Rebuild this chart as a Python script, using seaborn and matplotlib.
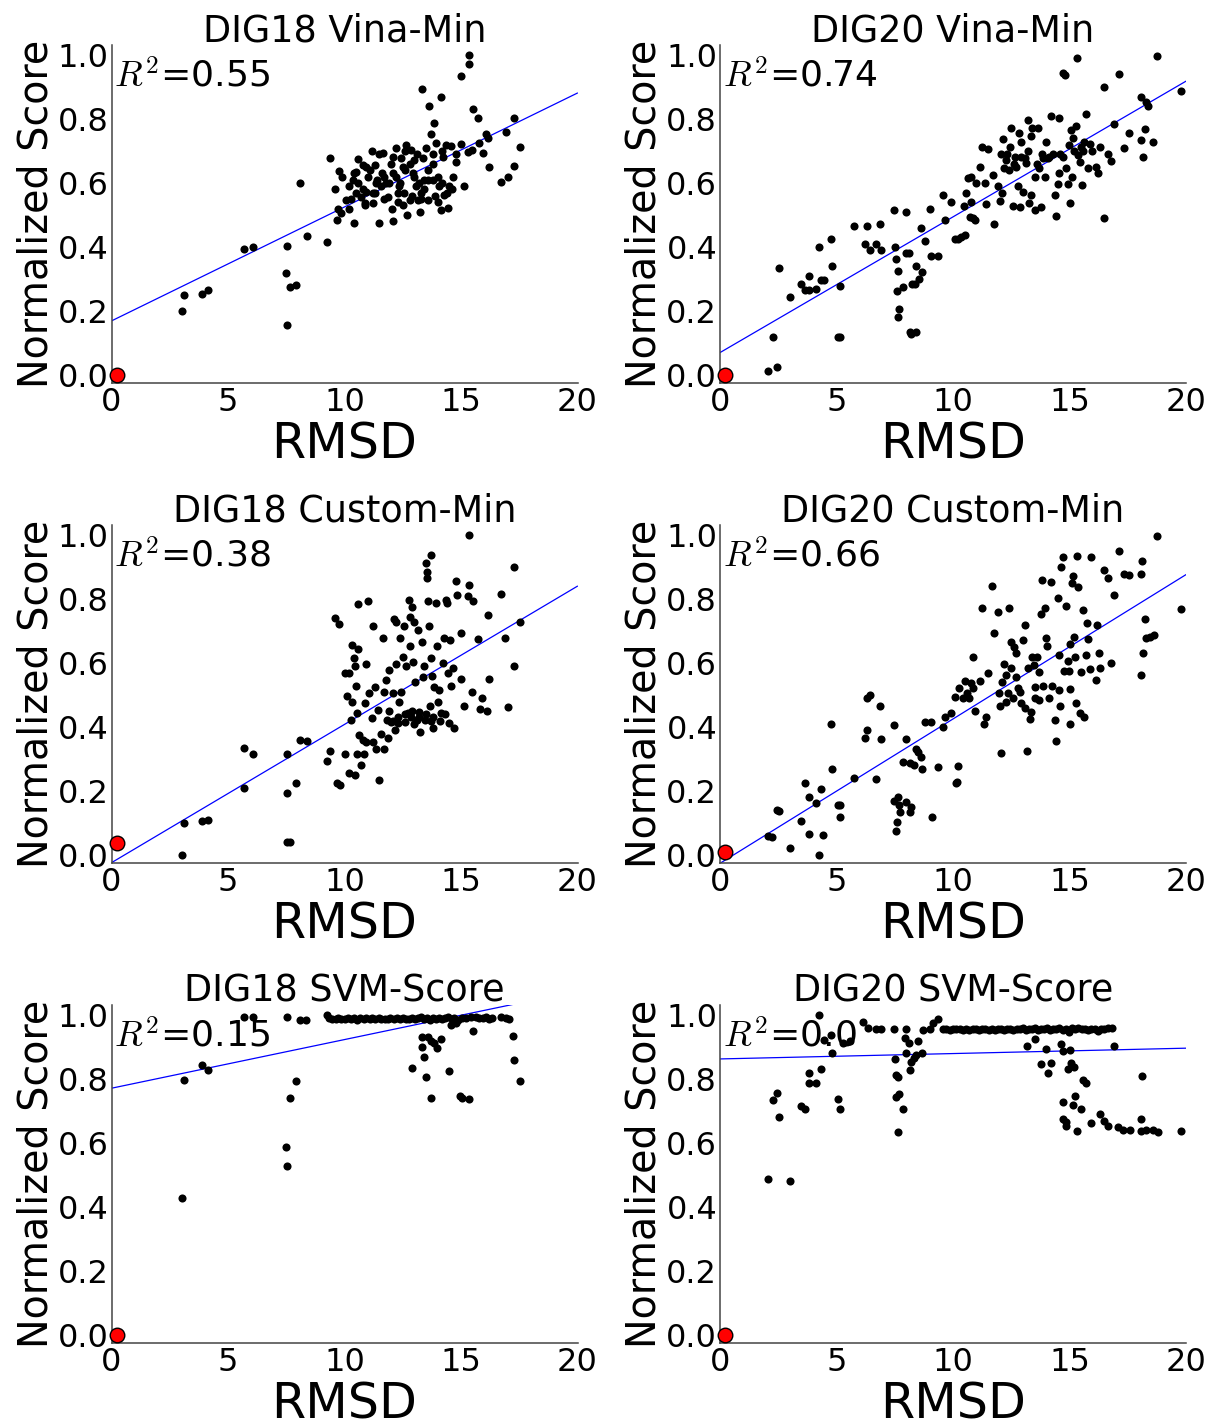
import numpy as np
import matplotlib
matplotlib.use('Agg')
import matplotlib.pyplot as plt
import seaborn as sns
import pandas as pd
from matplotlib.ticker import FormatStrFormatter

# ---------------- data ----------------
titles = ["DIG18 Vina-Min", "DIG20 Vina-Min", "DIG18 Custom-Min",
          "DIG20 Custom-Min", "DIG18 SVM-Score", "DIG20 SVM-Score"]
r2_labels = ["0.55", "0.74", "0.38", "0.66", "0.15", "0.0"]
fit_intercepts = [0.169, 0.070, -0.024, -0.026, 0.771, 0.8625]
fit_slopes = [0.0356, 0.0424, 0.0432, 0.0451, 0.0152, 0.00168]
native_rmsd = [0.22, 0.22, 0.22, 0.22, 0.22, 0.22]
native_score = [0.0, 0.0, 0.038, 0.01, 0.0, 0.0]
x_ticks = [0, 5, 10, 15, 20]
y_ticks = [0.0, 0.2, 0.4, 0.6, 0.8, 1.0]

p1_points = [
    (3.04, 0.20), (3.10, 0.25), (3.89, 0.252), (4.14, 0.264), (5.67, 0.395), (6.06, 0.399),
    (7.54, 0.402), (7.50, 0.319), (7.64, 0.275), (7.91, 0.28), (7.54, 0.156), (8.10, 0.60),
    (8.40, 0.435), (9.26, 0.414), (9.37, 0.677), (9.69, 0.484), (9.61, 0.581), (9.73, 0.518),
    (9.76, 0.638), (9.83, 0.507), (10.20, 0.518), (10.41, 0.476), (10.07, 0.547), (9.91, 0.62),
    (10.21, 0.589), (10.36, 0.609), (10.50, 0.635), (10.59, 0.675), (10.79, 0.656), (10.93, 0.651),
    (11.33, 0.656), (10.50, 0.568), (10.71, 0.557), (10.86, 0.536), (10.93, 0.573), (11.21, 0.536),
    (11.21, 0.568), (11.50, 0.476), (11.36, 0.599), (11.57, 0.589), (11.64, 0.693), (11.71, 0.62),
    (11.86, 0.557), (11.93, 0.599), (12.04, 0.519), (12.09, 0.481), (12.07, 0.63), (12.21, 0.708),
    (12.29, 0.542), (12.36, 0.589), (12.43, 0.677), (12.50, 0.651), (12.57, 0.568), (12.64, 0.719),
    (12.69, 0.50), (12.79, 0.547), (12.86, 0.703), (12.93, 0.63), (13.00, 0.672), (13.07, 0.589),
    (13.14, 0.547), (13.24, 0.508), (13.31, 0.892), (13.29, 0.568), (13.36, 0.677), (13.43, 0.609),
    (13.50, 0.708), (13.57, 0.547), (13.64, 0.839), (13.71, 0.753), (13.79, 0.609), (13.86, 0.786),
    (13.93, 0.724), (14.00, 0.542), (14.07, 0.589), (14.13, 0.87), (14.14, 0.516), (14.21, 0.682),
    (14.29, 0.563), (14.36, 0.719), (14.43, 0.521), (14.50, 0.589), (14.57, 0.714), (14.64, 0.62),
    (14.79, 0.667), (14.99, 0.721), (15.00, 0.935), (15.13, 0.589), (15.29, 0.698), (15.33, 0.971),
    (15.36, 1.0), (15.47, 0.703), (15.51, 0.831), (15.71, 0.804), (15.79, 0.724), (15.93, 0.695),
    (16.07, 0.753), (16.19, 0.651), (16.14, 0.742), (16.70, 0.603), (16.91, 0.758), (17.01, 0.618),
    (17.26, 0.654), (17.29, 0.804), (17.54, 0.711),
    (10.6, 0.60), (10.8, 0.58), (11.0, 0.62), (11.1, 0.64), (11.4, 0.61), (11.6, 0.63),
    (11.8, 0.60), (12.0, 0.66), (12.2, 0.62), (12.4, 0.60), (12.6, 0.64), (12.8, 0.66),
    (13.0, 0.62), (13.2, 0.60), (13.4, 0.58), (13.6, 0.64), (13.8, 0.66), (14.0, 0.62),
    (14.2, 0.60), (14.4, 0.57), (11.2, 0.70), (11.5, 0.69), (12.1, 0.68), (12.6, 0.70),
    (13.1, 0.69), (13.8, 0.69), (14.2, 0.70), (10.3, 0.55), (10.9, 0.53), (11.7, 0.55),
    (12.5, 0.53), (13.3, 0.55), (13.9, 0.56), (14.6, 0.58), (14.8, 0.69), (12.3, 0.57),
    (12.9, 0.56), (11.3, 0.57), (10.4, 0.63), (13.6, 0.61),
]

p2_points = [
    (2.04, 0.013), (2.43, 0.026), (2.27, 0.12), (2.53, 0.335), (3.01, 0.243), (3.46, 0.284),
    (3.63, 0.264), (3.83, 0.31), (3.81, 0.264), (4.11, 0.269), (4.23, 0.40), (4.33, 0.297),
    (4.47, 0.297), (4.76, 0.425), (4.80, 0.341), (5.16, 0.279), (5.06, 0.119), (5.14, 0.12),
    (5.77, 0.465), (6.30, 0.465), (6.24, 0.41), (6.43, 0.392), (6.70, 0.41), (6.87, 0.472),
    (6.93, 0.389), (7.46, 0.516), (7.50, 0.40), (7.57, 0.363), (7.64, 0.325), (7.59, 0.262),
    (7.69, 0.206), (7.66, 0.18), (7.84, 0.276), (8.00, 0.51), (8.00, 0.382), (8.10, 0.382),
    (8.41, 0.339), (8.14, 0.135), (8.21, 0.128), (8.40, 0.135), (8.24, 0.284), (8.36, 0.284),
    (8.54, 0.30), (8.67, 0.322), (8.64, 0.458), (8.79, 0.42), (9.00, 0.519), (9.07, 0.372),
    (9.34, 0.372), (9.56, 0.563), (9.66, 0.484), (9.91, 0.542), (10.07, 0.424), (10.21, 0.425),
    (10.36, 0.432), (10.50, 0.437), (10.46, 0.529), (10.56, 0.57), (10.64, 0.614), (10.71, 0.495),
    (10.79, 0.542), (10.86, 0.49), (10.93, 0.484), (10.79, 0.62), (10.97, 0.60), (11.17, 0.651),
    (11.26, 0.711), (11.36, 0.60), (11.40, 0.533), (11.50, 0.706), (11.70, 0.625), (11.77, 0.473),
    (11.93, 0.591), (12.03, 0.544), (12.09, 0.568), (12.14, 0.736), (12.07, 0.69), (12.17, 0.646),
    (12.29, 0.672), (12.43, 0.711), (12.51, 0.773), (12.57, 0.528), (12.64, 0.682), (12.71, 0.651),
    (12.79, 0.591), (12.86, 0.526), (12.83, 0.755), (12.93, 0.729), (13.00, 0.571), (13.07, 0.677),
    (13.14, 0.661), (13.21, 0.797), (13.26, 0.536), (13.33, 0.562), (13.33, 0.746), (13.40, 0.771),
    (13.50, 0.62), (13.50, 0.516), (13.64, 0.771), (13.71, 0.646), (13.79, 0.526), (13.86, 0.677),
    (13.93, 0.62), (14.00, 0.727), (14.07, 0.677), (14.21, 0.808), (14.36, 0.562), (14.40, 0.497),
    (14.50, 0.597), (14.54, 0.802), (14.57, 0.63), (14.71, 0.945), (14.79, 0.937), (14.71, 0.682),
    (14.83, 0.646), (14.93, 0.597), (14.97, 0.72), (15.07, 0.766), (15.11, 0.62), (15.17, 0.742),
    (15.03, 0.536), (15.29, 0.779), (15.33, 0.99), (15.36, 0.687), (15.43, 0.664), (15.50, 0.711),
    (15.54, 0.593), (15.64, 0.729), (15.71, 0.815), (15.79, 0.646), (15.86, 0.722), (15.97, 0.701),
    (16.14, 0.649), (16.23, 0.63), (16.29, 0.711), (16.47, 0.49), (16.47, 0.899), (16.64, 0.691),
    (16.79, 0.668), (16.89, 0.785), (17.11, 0.94), (17.34, 0.709), (17.57, 0.756), (18.06, 0.735),
    (18.09, 0.868), (18.14, 0.682), (18.23, 0.769), (18.29, 0.852), (18.39, 0.841), (18.60, 0.728),
    (18.76, 0.998), (19.79, 0.888),
    (12.3, 0.69), (12.6, 0.66), (12.9, 0.68), (13.2, 0.70), (13.8, 0.69), (14.1, 0.68),
    (14.3, 0.69), (14.6, 0.69), (15.2, 0.70), (15.6, 0.70), (13.6, 0.66), (12.4, 0.64),
]

p3_points = [
    (3.04, 0.0), (3.10, 0.099), (3.89, 0.106), (4.14, 0.109), (5.67, 0.335), (6.06, 0.316),
    (5.67, 0.21), (7.54, 0.316), (7.54, 0.195), (7.54, 0.042), (7.67, 0.042), (7.91, 0.224),
    (8.10, 0.359), (8.40, 0.357), (9.26, 0.295), (9.37, 0.325), (9.61, 0.74), (9.76, 0.721),
    (9.69, 0.224), (9.79, 0.219), (10.00, 0.57), (10.00, 0.316), (10.10, 0.497), (10.21, 0.57),
    (10.26, 0.422), (10.31, 0.656), (10.34, 0.478), (10.19, 0.255), (10.43, 0.25), (10.39, 0.617),
    (10.44, 0.589), (10.50, 0.528), (10.53, 0.445), (10.57, 0.643), (10.60, 0.783), (10.53, 0.316),
    (10.64, 0.375), (10.71, 0.281), (10.79, 0.359), (10.83, 0.316), (10.89, 0.474), (10.93, 0.597),
    (10.93, 0.354), (11.00, 0.794), (11.07, 0.507), (11.19, 0.427), (11.21, 0.716), (11.21, 0.354),
    (11.33, 0.526), (11.36, 0.33), (11.43, 0.453), (11.50, 0.234), (11.57, 0.377), (11.64, 0.677),
    (11.69, 0.51), (11.71, 0.33), (11.76, 0.547), (11.81, 0.422), (11.86, 0.365), (11.93, 0.578),
    (12.00, 0.417), (12.07, 0.507), (12.11, 0.736), (12.16, 0.391), (12.19, 0.597), (12.21, 0.728),
    (12.29, 0.411), (12.36, 0.479), (12.40, 0.677), (12.44, 0.51), (12.50, 0.618), (12.54, 0.714),
    (12.59, 0.417), (12.64, 0.589), (12.71, 0.445), (12.76, 0.797), (12.79, 0.745), (12.81, 0.653),
    (12.86, 0.432), (12.90, 0.774), (12.93, 0.604), (13.00, 0.729), (13.04, 0.542), (13.10, 0.422),
    (13.14, 0.703), (13.21, 0.448), (13.26, 0.385), (13.31, 0.667), (13.36, 0.557), (13.40, 0.591),
    (13.44, 0.422), (13.49, 0.911), (13.53, 0.865), (13.56, 0.883), (13.59, 0.792), (13.64, 0.716),
    (13.69, 0.464), (13.71, 0.617), (13.71, 0.938), (13.76, 0.559), (13.79, 0.396), (13.86, 0.526),
    (13.93, 0.786), (13.97, 0.653), (14.01, 0.479), (14.07, 0.516), (14.14, 0.443), (14.21, 0.599),
    (14.29, 0.677), (14.36, 0.797), (14.40, 0.786), (14.46, 0.568), (14.50, 0.411), (14.54, 0.672),
    (14.57, 0.528), (14.64, 0.583), (14.71, 0.396), (14.79, 0.857), (14.81, 0.811), (15.00, 0.693),
    (14.99, 0.549), (15.14, 0.467), (15.29, 0.81), (15.33, 0.844), (15.36, 1.0), (15.47, 0.51),
    (15.51, 0.794), (15.71, 0.674), (15.80, 0.455), (15.89, 0.49), (16.10, 0.45), (16.16, 0.75),
    (16.19, 0.549), (16.70, 0.816), (16.89, 0.677), (17.01, 0.463), (17.26, 0.589), (17.29, 0.901),
    (17.54, 0.729),
    (12.3, 0.43), (12.6, 0.44), (12.9, 0.45), (13.2, 0.43), (13.5, 0.44), (13.8, 0.43),
    (14.1, 0.42), (14.3, 0.44), (12.1, 0.42), (11.9, 0.45), (13.0, 0.41), (13.7, 0.42),
]

p4_points = [
    (2.04, 0.06), (2.24, 0.057), (2.43, 0.142), (2.53, 0.139), (3.01, 0.023), (3.46, 0.107),
    (3.63, 0.226), (3.81, 0.065), (3.83, 0.182), (4.11, 0.164), (4.23, 0.001), (4.33, 0.205),
    (4.44, 0.063), (4.76, 0.41), (4.80, 0.269), (5.06, 0.156), (5.16, 0.156), (5.14, 0.12),
    (5.77, 0.24), (6.24, 0.365), (6.33, 0.389), (6.29, 0.489), (6.43, 0.499), (6.70, 0.236),
    (6.87, 0.467), (6.93, 0.363), (7.46, 0.407), (7.46, 0.17), (7.57, 0.074), (7.59, 0.103),
    (7.64, 0.18), (7.69, 0.156), (7.71, 0.135), (7.84, 0.29), (8.00, 0.363), (8.00, 0.167),
    (8.14, 0.135), (8.14, 0.286), (8.20, 0.151), (8.31, 0.281), (8.41, 0.33), (8.50, 0.323),
    (8.61, 0.307), (8.67, 0.268), (8.79, 0.414), (9.07, 0.414), (9.11, 0.119), (9.34, 0.275),
    (9.56, 0.401), (9.66, 0.432), (9.91, 0.443), (10.09, 0.495), (10.14, 0.224), (10.17, 0.229),
    (10.21, 0.277), (10.26, 0.521), (10.43, 0.49), (10.50, 0.544), (10.60, 0.505), (10.69, 0.49),
    (10.79, 0.536), (10.86, 0.62), (10.86, 0.521), (10.96, 0.451), (11.17, 0.545), (11.26, 0.773),
    (11.33, 0.41), (11.40, 0.432), (11.49, 0.57), (11.69, 0.84), (11.76, 0.695), (11.93, 0.76),
    (11.97, 0.505), (12.03, 0.464), (12.06, 0.32), (12.11, 0.539), (12.17, 0.596), (12.26, 0.479),
    (12.29, 0.563), (12.36, 0.505), (12.41, 0.771), (12.47, 0.667), (12.51, 0.583), (12.57, 0.49),
    (12.63, 0.651), (12.69, 0.557), (12.71, 0.63), (12.79, 0.521), (12.86, 0.51), (12.93, 0.476),
    (13.00, 0.672), (13.07, 0.719), (13.11, 0.458), (13.17, 0.324), (13.21, 0.583), (13.29, 0.424),
    (13.33, 0.448), (13.40, 0.62), (13.46, 0.594), (13.50, 0.526), (13.54, 0.49), (13.60, 0.62),
    (13.69, 0.573), (13.71, 0.484), (13.76, 0.752), (13.80, 0.859), (13.86, 0.528), (13.93, 0.771),
    (14.00, 0.677), (14.03, 0.653), (14.11, 0.49), (14.21, 0.854), (14.26, 0.529), (14.36, 0.423),
    (14.40, 0.356), (14.50, 0.802), (14.54, 0.625), (14.57, 0.514), (14.60, 0.464), (14.64, 0.901),
    (14.71, 0.932), (14.76, 0.576), (14.83, 0.778), (14.93, 0.607), (14.97, 0.576), (15.00, 0.659),
    (15.03, 0.41), (15.03, 0.518), (15.11, 0.851), (15.14, 0.872), (15.19, 0.682), (15.24, 0.62),
    (15.29, 0.476), (15.33, 0.934), (15.36, 0.836), (15.43, 0.443), (15.50, 0.573), (15.57, 0.766),
    (15.64, 0.432), (15.71, 0.625), (15.74, 0.724), (15.79, 0.674), (15.86, 0.58), (15.93, 0.932),
    (16.14, 0.547), (16.19, 0.719), (16.26, 0.63), (16.31, 0.583), (16.49, 0.891), (16.64, 0.865),
    (16.77, 0.599), (16.89, 0.813), (17.11, 0.951), (17.34, 0.878), (17.57, 0.875), (18.06, 0.563),
    (18.09, 0.878), (18.14, 0.632), (18.11, 0.92), (18.26, 0.738), (18.29, 0.677), (18.46, 0.682),
    (18.63, 0.688), (18.76, 0.998), (19.79, 0.769),
]

p5_points = [
    (3.04, 0.427), (3.10, 0.797), (3.89, 0.845), (4.14, 0.828), (5.67, 0.995), (6.06, 0.995),
    (7.54, 0.995), (7.50, 0.588), (7.54, 0.527), (7.64, 0.74), (7.91, 0.794), (8.07, 0.984),
    (8.36, 0.984), (9.26, 1.0), (12.90, 0.835), (13.33, 0.899), (13.33, 0.93), (13.43, 0.868),
    (13.50, 0.807), (13.57, 0.932), (13.71, 0.741), (13.71, 0.917), (13.86, 0.911), (13.96, 0.896),
    (14.14, 0.924), (14.47, 0.826), (14.57, 0.969), (14.79, 0.974), (14.96, 0.748), (15.03, 0.74),
    (15.34, 0.738), (15.53, 0.95), (15.21, 0.99), (15.64, 0.995), (15.93, 0.99), (16.19, 0.988),
    (16.71, 0.993), (16.93, 0.99), (17.07, 0.988), (17.24, 0.934), (17.29, 0.859), (17.54, 0.792),
    (9.35, 0.99), (9.48, 0.988), (9.62, 0.986), (9.71, 0.99), (9.86, 0.988), (10.02, 0.986),
    (10.13, 0.99), (10.27, 0.987), (10.41, 0.99), (10.55, 0.985), (10.66, 0.989), (10.82, 0.987),
    (10.94, 0.99), (11.08, 0.986), (11.19, 0.989), (11.33, 0.987), (11.47, 0.99), (11.58, 0.986),
    (11.72, 0.988), (11.86, 0.986), (11.97, 0.99), (12.11, 0.987), (12.24, 0.989), (12.38, 0.986),
    (12.52, 0.99), (12.63, 0.987), (12.77, 0.988), (12.89, 0.991), (13.04, 0.986), (13.16, 0.989),
    (13.29, 0.992), (13.41, 0.987), (13.55, 0.99), (13.67, 0.985), (13.81, 0.99), (13.93, 0.987),
    (14.06, 0.991), (14.18, 0.986), (14.31, 0.989), (14.44, 0.992), (14.6, 0.987), (14.72, 0.99),
    (14.88, 0.985), (15.05, 0.99), (15.42, 0.992), (15.78, 0.99), (16.08, 0.992), (16.35, 0.99),
]

p6_points = [
    (2.04, 0.486), (3.01, 0.482), (2.27, 0.734), (2.43, 0.755), (2.53, 0.682), (3.46, 0.715),
    (3.63, 0.705), (3.83, 0.819), (3.81, 0.786), (4.11, 0.786), (4.23, 1.0), (4.33, 0.831),
    (4.47, 0.922), (4.76, 0.937), (4.80, 0.88), (5.06, 0.736), (5.14, 0.705), (5.29, 0.911),
    (5.57, 0.917), (6.14, 0.979), (6.36, 0.958), (6.71, 0.956), (6.93, 0.956), (7.46, 0.955),
    (7.49, 0.862), (7.57, 0.812), (7.66, 0.805), (7.57, 0.744), (7.67, 0.753), (7.84, 0.706),
    (7.66, 0.633), (7.97, 0.955), (8.00, 0.88), (7.94, 0.927), (8.11, 0.911), (8.14, 0.828),
    (8.21, 0.854), (8.31, 0.864), (8.43, 0.875), (8.50, 0.919), (8.67, 0.88), (8.71, 0.953),
    (9.00, 0.955), (9.14, 0.974), (9.36, 0.986), (9.57, 0.955), (13.19, 0.903), (13.50, 0.924),
    (13.79, 0.847), (14.00, 0.894), (14.07, 0.819), (14.21, 0.849), (14.64, 0.908), (14.71, 0.888),
    (14.74, 0.729), (14.74, 0.676), (14.83, 0.652), (14.86, 0.666), (14.93, 0.831), (15.00, 0.89),
    (15.07, 0.849), (15.14, 0.72), (15.21, 0.838), (15.23, 0.746), (15.33, 0.637), (15.50, 0.706),
    (15.57, 0.796), (15.71, 0.788), (15.93, 0.661), (16.29, 0.69), (16.50, 0.669), (16.64, 0.653),
    (16.89, 0.903), (17.07, 0.65), (17.29, 0.642), (17.60, 0.642), (18.06, 0.676), (18.13, 0.81),
    (18.09, 0.637), (18.29, 0.642), (18.57, 0.64), (18.79, 0.633), (19.79, 0.638),
    (9.72, 0.955), (9.86, 0.954), (10.01, 0.956), (10.14, 0.955), (10.28, 0.957), (10.43, 0.954),
    (10.57, 0.956), (10.69, 0.953), (10.84, 0.957), (10.97, 0.955), (11.11, 0.954), (11.26, 0.957),
    (11.39, 0.955), (11.53, 0.953), (11.66, 0.956), (11.79, 0.954), (11.93, 0.957), (12.06, 0.955),
    (12.2, 0.953), (12.33, 0.957), (12.46, 0.955), (12.59, 0.953), (12.73, 0.957), (12.86, 0.955),
    (12.99, 0.958), (13.12, 0.954), (13.26, 0.957), (13.39, 0.955), (13.52, 0.958), (13.64, 0.953),
    (13.78, 0.957), (13.91, 0.955), (14.04, 0.958), (14.17, 0.954), (14.3, 0.957), (14.44, 0.955),
    (14.57, 0.958), (14.7, 0.954), (14.83, 0.957), (14.97, 0.947), (15.1, 0.958), (15.24, 0.955),
    (15.38, 0.958), (15.52, 0.955), (15.66, 0.957), (15.8, 0.954), (15.94, 0.957), (16.08, 0.955),
    (16.22, 0.951), (16.36, 0.957), (16.5, 0.955), (16.66, 0.958), (16.84, 0.96),
]

all_points = [p1_points, p2_points, p3_points, p4_points, p5_points, p6_points]

# ---------------- style ----------------
sns.set_style("white")
plt.rcParams['font.family'] = ['DejaVu Sans']
plt.rcParams['mathtext.fontset'] = 'cm'
plt.rcParams['text.color'] = 'black'
plt.rcParams['axes.labelcolor'] = 'black'
plt.rcParams['xtick.color'] = 'black'
plt.rcParams['ytick.color'] = 'black'

W, H = 1209, 1428
fig = plt.figure(figsize=(W / 100, H / 100), dpi=100)

ax_w, ax_h = 466, 338
lefts_px = [111.5, 720]
tops_px = [45, 525, 1005]

for i, pts in enumerate(all_points):
    r, c = divmod(i, 2)
    left = lefts_px[c] / W
    bottom = 1 - (tops_px[r] + ax_h) / H
    ax = fig.add_axes([left, bottom, ax_w / W, ax_h / H])

    df = pd.DataFrame(pts, columns=["RMSD", "Score"])
    sns.scatterplot(data=df, x="RMSD", y="Score", ax=ax, color="black",
                    s=34, linewidth=0, zorder=3, legend=False)

    xs = np.array([0.0, 20.0])
    ax.plot(xs, fit_intercepts[i] + fit_slopes[i] * xs, color="blue",
            lw=0.9, zorder=2)

    nat = pd.DataFrame({"RMSD": [native_rmsd[i]], "Score": [native_score[i]]})
    sns.scatterplot(data=nat, x="RMSD", y="Score", ax=ax, color="red",
                    edgecolor="black", linewidth=1.0, s=110, zorder=5,
                    legend=False, clip_on=False)

    ax.text(0.12, 0.9, r"$R^2$=" + r2_labels[i], fontsize=26,
            va="baseline", ha="left", zorder=1, color="black")

    ax.set_xlim(0, 20)
    ax.set_ylim(-0.025, 1.031)
    ax.set_xticks(x_ticks)
    ax.set_yticks(y_ticks)
    ax.yaxis.set_major_formatter(FormatStrFormatter('%.1f'))
    ax.tick_params(axis='both', direction='in', length=10, width=1,
                   color='#aaaaaa', labelcolor='black', labelsize=23)
    ax.tick_params(axis='x', pad=3)
    ax.tick_params(axis='y', pad=2)
    for s in ["top", "right"]:
        ax.spines[s].set_visible(False)
    for s in ["left", "bottom"]:
        ax.spines[s].set_color("#444444")
        ax.spines[s].set_linewidth(1.1)

    ax.set_title(titles[i], fontsize=26.3, pad=2.5, color="black")
    ax.set_xlabel("RMSD", fontsize=35.5, labelpad=2)
    ax.set_ylabel("Normalized Score", fontsize=28.5, labelpad=1)

fig.savefig("out.png", dpi=100)
